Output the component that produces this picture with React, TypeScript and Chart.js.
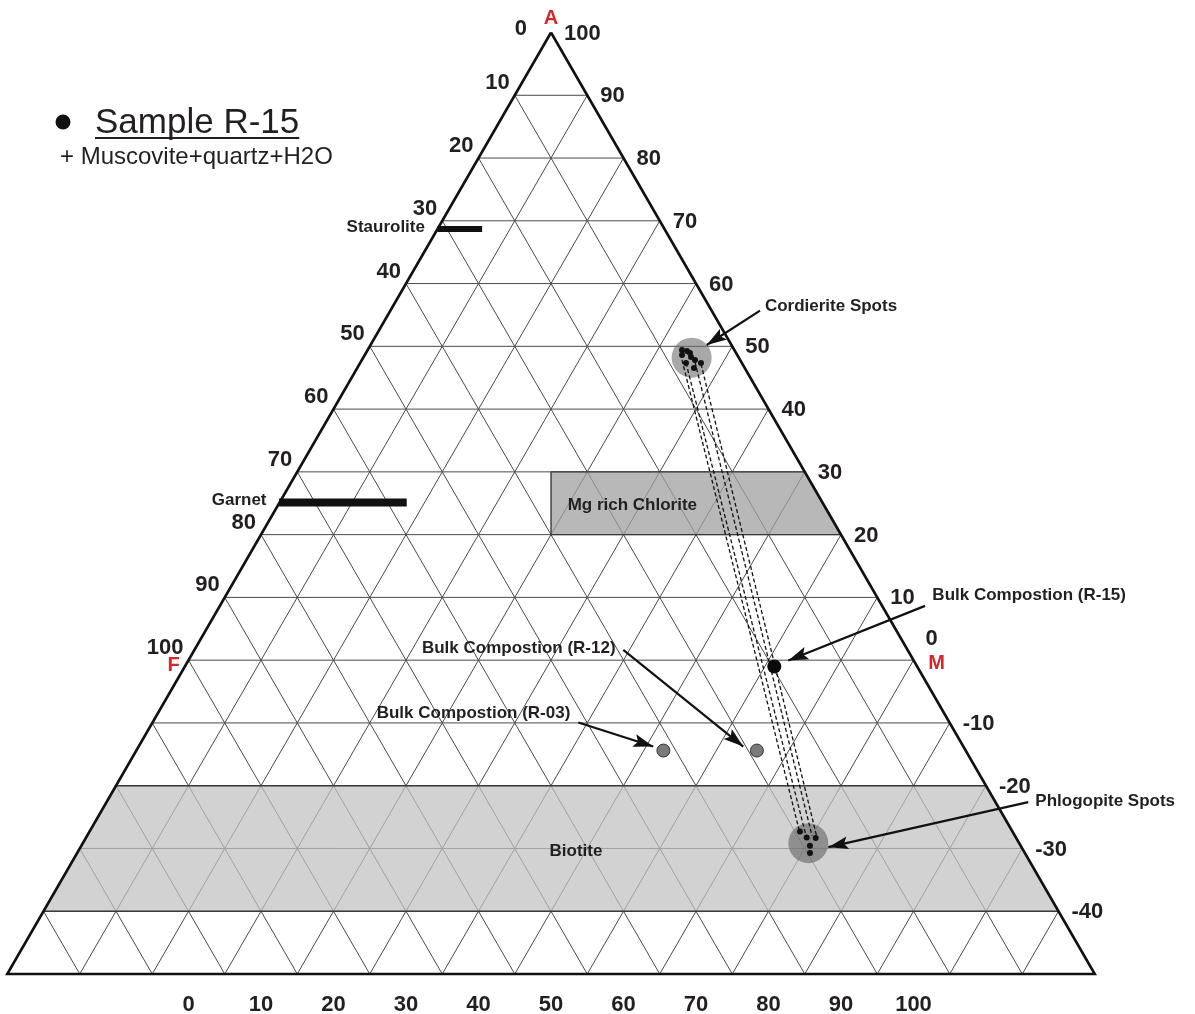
import { useEffect, useRef } from "react";
import { Chart, registerables } from "chart.js";

Chart.register(...registerables);

const FONT = 'Arial, "Liberation Sans", sans-serif';
const INK = "#231f20";
const RED = "#d7262b";

// Frame of the AFM projection: x runs from F (0) to M (100) along the A = 0 line,
// y is the A value, from the apex (100) down to the truncated base (-50).
const X_MIN = -25;
const X_MAX = 125;
const A_MIN = -50;
const A_MAX = 100;

// Scale labels on the three sides
const leftTicks = [0, 10, 20, 30, 40, 50, 60, 70, 80, 90, 100];
const rightTicks = [100, 90, 80, 70, 60, 50, 40, 30, 20, 10, 0, -10, -20, -30, -40];
const bottomTicks = [0, 10, 20, 30, 40, 50, 60, 70, 80, 90, 100];

// Levels of the triangular grid (A values of the horizontal rulings)
const gridLevels = [90, 80, 70, 60, 50, 40, 30, 20, 10, 0, -10, -20, -30, -40];

// Mineral fields
const chloriteX = [50, 85, 90, 50];
const chloriteA = [30, 30, 20, 20];
const biotiteX = [-10, 110, 120, -20];
const biotiteA = [-20, -20, -40, -40];

// Garnet and staurolite compositional bars
const garnetX = [12.5, 30.1];
const garnetA = [25.1, 25.1];
const stauroliteX = [34.35, 40.5];
const stauroliteA = [68.7, 68.7];

// Cordierite spot analyses
const cordieriteCentreX = [69.4];
const cordieriteCentreA = [48.2];
const cordieriteX = [68.07, 68.07, 68.76, 69.17, 69.31, 68.62, 69.86, 70.69, 69.72];
const cordieriteA = [49.43, 48.63, 49.27, 48.95, 48.31, 47.36, 47.83, 47.36, 46.56];

// Phlogopite spot analyses
const phlogopiteCentreX = [85.49];
const phlogopiteCentreA = [-29.15];
const phlogopiteX = [84.34, 85.27, 86.51, 85.72, 85.72];
const phlogopiteA = [-27.3, -28.26, -28.35, -29.58, -30.74];

// Bulk rock compositions
const bulkNames = ["R-15", "R-12", "R-03"];
const bulkX = [80.8, 78.4, 65.5];
const bulkA = [-1.0, -14.4, -14.4];

// Cordierite - phlogopite tie lines
const tieFromX = [68.07, 68.62, 69.86, 70.69];
const tieFromA = [47.83, 47.36, 47.52, 47.2];
const tieToX = [84.21, 85.17, 86.0, 86.69];
const tieToA = [-27.0, -27.96, -27.96, -28.28];

// Callout arrows (tail -> head)
const arrowFromX = [78.83, 101.59, 59.97, 53.77, 115.83];
const arrowFromA = [55.69, 8.65, 1.64, -9.94, -22.62];
const arrowToX = [71.48, 82.73, 76.52, 64.11, 88.25];
const arrowToA = [50.22, -0.06, -13.76, -13.76, -29.79];

// Callout and field labels
const calloutText = [
  "Cordierite Spots",
  "Bulk Compostion (R-15)",
  "Bulk Compostion (R-12)",
  "Bulk Compostion (R-03)",
  "Phlogopite Spots",
  "Mg rich Chlorite",
  "Biotite",
  "Staurolite",
  "Garnet",
];
const calloutX = [79.5, 102.6, 32.2, 25.96, 116.8, 52.3, 49.8, 21.8, 3.2];
const calloutA = [56.3, 10.4, 1.9, -8.44, -22.5, 24.7, -30.5, 68.97, 25.4];

const pts = (xs: number[], ys: number[]) => xs.map((x, i) => ({ x, y: ys[i] }));

function lineSet(data: any[], color: string, width: number, extra: any = {}) {
  return {
    data,
    showLine: true,
    borderColor: color,
    borderWidth: width,
    pointRadius: 0,
    fill: false,
    tension: 0,
    clip: false,
    ...extra,
  };
}

function buildDatasets() {
  const sets: any[] = [];

  // triangular grid: horizontal rulings
  gridLevels.forEach((a) => {
    sets.push(lineSet([{ x: a / 2, y: a }, { x: 100 - a / 2, y: a }], "#4a4a4a", 1));
  });
  // rulings parallel to the F side and to the M side
  for (let c = 10; c <= 140; c += 10) {
    sets.push(
      lineSet([{ x: c - 25, y: A_MIN }, { x: 50 + c / 2, y: 100 - c }], "#4a4a4a", 1)
    );
  }
  for (let d = -40; d <= 90; d += 10) {
    sets.push(lineSet([{ x: d + 25, y: A_MIN }, { x: d / 2, y: d }], "#4a4a4a", 1));
  }

  // mineral fields (filled by the afmShapes plugin)
  sets.push(
    lineSet([...pts(biotiteX, biotiteA), { x: biotiteX[0], y: biotiteA[0] }], "#3a3a3a", 1.4, {
      regionFill: "rgba(192,192,192,0.72)",
      label: "Biotite",
    })
  );
  sets.push(
    lineSet([...pts(chloriteX, chloriteA), { x: chloriteX[0], y: chloriteA[0] }], "#3a3a3a", 1.4, {
      regionFill: "rgba(160,160,160,0.75)",
      label: "Mg rich Chlorite",
    })
  );

  // outer triangle
  sets.push(
    lineSet(
      [
        { x: 50, y: A_MAX },
        { x: X_MIN, y: A_MIN },
        { x: X_MAX, y: A_MIN },
        { x: 50, y: A_MAX },
      ],
      "#111",
      2.6
    )
  );

  // garnet and staurolite bars
  sets.push(lineSet(pts(garnetX, garnetA), "#111", 8, { borderCapStyle: "butt", label: "Garnet" }));
  sets.push(lineSet(pts(stauroliteX, stauroliteA), "#111", 6, { borderCapStyle: "butt", label: "Staurolite" }));

  // spot clusters
  sets.push({
    data: pts(cordieriteCentreX, cordieriteCentreA),
    pointRadius: 20,
    backgroundColor: "rgba(110,110,110,0.6)",
    borderWidth: 0,
    clip: false,
  });
  sets.push({
    data: pts(phlogopiteCentreX, phlogopiteCentreA),
    pointRadius: 20,
    backgroundColor: "rgba(100,100,100,0.6)",
    borderWidth: 0,
    clip: false,
  });

  // tie lines
  tieFromX.forEach((_, i) => {
    sets.push(
      lineSet(
        [
          { x: tieFromX[i], y: tieFromA[i] },
          { x: tieToX[i], y: tieToA[i] },
        ],
        "#111",
        1.3,
        { borderDash: [4, 2.5] }
      )
    );
  });

  sets.push({
    label: "Cordierite",
    data: pts(cordieriteX, cordieriteA),
    pointRadius: 3,
    backgroundColor: "#111",
    borderWidth: 0,
    clip: false,
  });
  sets.push({
    label: "Phlogopite",
    data: pts(phlogopiteX, phlogopiteA),
    pointRadius: 3,
    backgroundColor: "#111",
    borderWidth: 0,
    clip: false,
  });

  // bulk compositions
  bulkNames.forEach((name, i) => {
    const main = name === "R-15";
    sets.push({
      label: name,
      data: [{ x: bulkX[i], y: bulkA[i] }],
      pointRadius: main ? 7 : 6.5,
      backgroundColor: main ? "#0a0a0a" : "#7a7a7a",
      borderColor: "#333",
      borderWidth: main ? 0 : 1,
      clip: false,
    });
  });

  // callout arrows
  arrowFromX.forEach((_, i) => {
    sets.push(
      lineSet(
        [
          { x: arrowFromX[i], y: arrowFromA[i] },
          { x: arrowToX[i], y: arrowToA[i] },
        ],
        "#111",
        2.2,
        { arrowHead: true }
      )
    );
  });

  // first dataset is drawn first
  const n = sets.length;
  sets.forEach((s, i) => {
    s.order = n - i;
  });
  return sets;
}

const shapePlugin = {
  id: "afmShapes",
  beforeDatasetDraw(chart: any, args: any) {
    const ds = chart.data.datasets[args.index];
    if (!ds.regionFill) return;
    const ctx = chart.ctx;
    const p = args.meta.data;
    ctx.save();
    ctx.beginPath();
    p.forEach((el: any, i: number) => (i ? ctx.lineTo(el.x, el.y) : ctx.moveTo(el.x, el.y)));
    ctx.closePath();
    ctx.fillStyle = ds.regionFill;
    ctx.fill();
    ctx.restore();
  },
  afterDatasetDraw(chart: any, args: any) {
    const ds = chart.data.datasets[args.index];
    if (!ds.arrowHead) return;
    const ctx = chart.ctx;
    const p = args.meta.data;
    const a = p[p.length - 2];
    const b = p[p.length - 1];
    const ang = Math.atan2(b.y - a.y, b.x - a.x);
    ctx.save();
    ctx.translate(b.x, b.y);
    ctx.rotate(ang);
    ctx.beginPath();
    ctx.moveTo(0, 0);
    ctx.lineTo(-20, -6.5);
    ctx.lineTo(-16, 0);
    ctx.lineTo(-20, 6.5);
    ctx.closePath();
    ctx.fillStyle = "#111";
    ctx.fill();
    ctx.restore();
  },
};

const textPlugin = {
  id: "afmText",
  afterDatasetsDraw(chart: any) {
    const ctx = chart.ctx;
    const sx = chart.scales.x;
    const sy = chart.scales.y;
    const px = (v: number) => sx.getPixelForValue(v);
    const py = (v: number) => sy.getPixelForValue(v);
    ctx.save();
    ctx.fillStyle = INK;
    ctx.font = `bold 22px ${FONT}`;

    // F-side scale
    ctx.textAlign = "right";
    ctx.textBaseline = "middle";
    leftTicks.forEach((L) => {
      const a = 100 - L;
      const ex = px(a / 2);
      const ly = py(a);
      if (L === 0) ctx.fillText("0", ex - 24, ly - 4);
      else ctx.fillText(String(L), ex - 5, ly - 12);
    });

    // M-side scale
    ctx.textAlign = "left";
    rightTicks.forEach((R) => {
      const ex = px(100 - R / 2);
      const ly = py(R);
      if (R === 0) ctx.fillText("0", ex + 12, ly - 21);
      else ctx.fillText(String(R), ex + 13, ly + 1);
    });

    // apices
    ctx.fillStyle = RED;
    ctx.font = `bold 20px ${FONT}`;
    ctx.textAlign = "center";
    ctx.fillText("A", px(50), py(100) - 14);
    ctx.fillText("F", px(0) - 15, py(0) + 5);
    ctx.fillText("M", px(100) + 23, py(0) + 3);

    // callouts
    ctx.fillStyle = INK;
    ctx.font = `bold 17px ${FONT}`;
    ctx.textAlign = "left";
    calloutText.forEach((t, i) => {
      ctx.fillText(t, px(calloutX[i]), py(calloutA[i]));
    });

    // sample legend
    ctx.beginPath();
    ctx.arc(63, 122, 7.5, 0, Math.PI * 2);
    ctx.fillStyle = "#111";
    ctx.fill();
    ctx.fillStyle = INK;
    ctx.textBaseline = "alphabetic";
    ctx.font = `35px ${FONT}`;
    const title = "Sample R-15";
    ctx.fillText(title, 95, 133);
    const w = ctx.measureText(title).width;
    ctx.fillRect(95, 137, w, 2);
    ctx.font = `24px ${FONT}`;
    ctx.fillText("+ Muscovite+quartz+H2O", 60, 164);
    ctx.restore();
  },
};

export default function App() {
  const ref = useRef<HTMLCanvasElement | null>(null);

  useEffect(() => {
    if (!ref.current) return;
    const chart = new Chart(ref.current, {
      type: "scatter",
      data: { datasets: buildDatasets() },
      options: {
        animation: false,
        responsive: false,
        devicePixelRatio: 1,
        events: [],
        layout: {
          autoPadding: false,
          padding: { left: 7.25, right: 100.25, top: 32.5, bottom: 0 },
        },
        plugins: { legend: { display: false }, tooltip: { enabled: false } },
        scales: {
          x: {
            type: "linear",
            min: X_MIN,
            max: X_MAX,
            grid: { display: false },
            border: { display: false },
            afterBuildTicks: (s: any) => {
              s.ticks = bottomTicks.map((v) => ({ value: v }));
            },
            afterFit: (s: any) => {
              s.height = 40;
              s.paddingLeft = 0;
              s.paddingRight = 0;
            },
            ticks: {
              autoSkip: false,
              maxRotation: 0,
              padding: 10,
              color: INK,
              font: { family: FONT, size: 22, weight: "bold" },
            },
          },
          y: { type: "linear", display: false, min: A_MIN, max: A_MAX },
        },
      } as any,
      plugins: [shapePlugin, textPlugin],
    });
    return () => chart.destroy();
  }, []);

  return (
    <div style={{ position: "absolute", left: 0, top: 0, width: 1195, height: 1014, background: "#fff" }}>
      <canvas ref={ref} width={1195} height={1014} style={{ display: "block", width: 1195, height: 1014 }} />
    </div>
  );
}
